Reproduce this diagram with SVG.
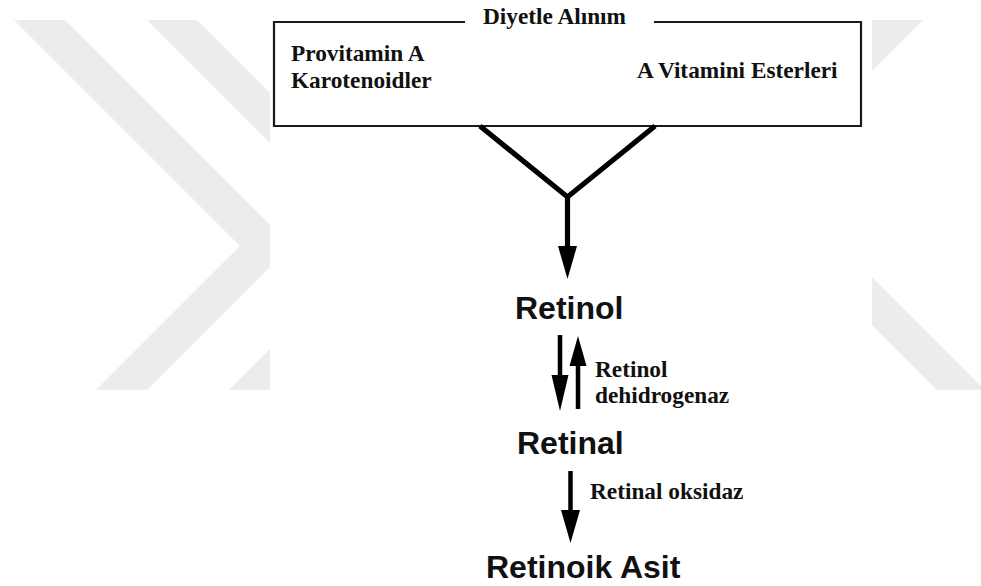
<svg xmlns="http://www.w3.org/2000/svg" width="981" height="586" viewBox="0 0 981 586">
  <style>
    .wm { fill: #ececec; }
    .frame { fill: none; stroke: #1a1a1a; stroke-width: 2.2; }
    .serif { font-family: "Liberation Serif", "Times New Roman", serif; font-weight: bold; font-size: 23.3px; fill: #111; }
    .sans { font-family: "Liberation Sans", Arial, sans-serif; font-weight: bold; font-size: 32px; fill: #111; }
    .shaft { fill: none; stroke: #000; stroke-width: 5.2; stroke-linejoin: miter; }
    .shaft-thin { fill: none; stroke: #000; stroke-width: 4.5; }
    .head { fill: #000; }
  </style>
  <defs>
    <clipPath id="clipLeft"><rect x="0" y="20" width="270" height="370"/></clipPath>
    <clipPath id="clipRight"><rect x="872" y="20" width="109" height="370"/></clipPath>
  </defs>

  <rect width="981" height="586" fill="#fff"/>

  <!-- background chevron pattern at both sides -->
  <g id="backdrop">
    <g clip-path="url(#clipLeft)">
      <polygon class="wm" points="-60,-54 -9,-54 291,246 -9,546 -60,546 240,246"/>
      <polygon class="wm" points="73,-54 123,-54 423,246 123,546 73,546 373,246"/>
    </g>
    <g clip-path="url(#clipRight)">
      <polygon class="wm" points="872,20 923,20 872,71"/>
      <polygon class="wm" points="872,277 981,386 981,390 937,390 872,325"/>
    </g>
  </g>

  <!-- dietary intake box -->
  <g id="intake">
    <path class="frame" d="M465,22 H274 V126 H861 V22 H654"/>
    <text class="serif" x="554.5" y="24" text-anchor="middle">Diyetle Alınım</text>
    <text class="serif" x="291" y="61">Provitamin A</text>
    <text class="serif" x="291" y="88">Karotenoidler</text>
    <text class="serif" x="637" y="78">A Vitamini Esterleri</text>
  </g>

  <g id="retinol">
    <text class="sans" x="515" y="319">Retinol</text>
  </g>

  <g id="retinal">
    <text class="sans" x="517" y="454">Retinal</text>
  </g>

  <g id="retinoic-acid">
    <text class="sans" x="486" y="578">Retinoik Asit</text>
  </g>

  <g id="connectors">
    <!-- merge of both sources into retinol -->
    <path class="shaft" d="M480,126 L567.5,197 L655,126"/>
    <path class="shaft" d="M567.5,196 V250"/>
    <polygon class="head" points="558,246 577,246 567.5,279"/>

    <!-- retinol <-> retinal -->
    <path class="shaft-thin" d="M560,335 V378"/>
    <polygon class="head" points="551.5,375 568.5,375 560,411"/>
    <path class="shaft-thin" d="M578,363 V409"/>
    <polygon class="head" points="569.5,366 586.5,366 578,336"/>
    <text class="serif" x="595" y="377">Retinol</text>
    <text class="serif" x="595" y="403">dehidrogenaz</text>

    <!-- retinal -> retinoic acid -->
    <path class="shaft-thin" d="M570.5,471 V514"/>
    <polygon class="head" points="561,510 580,510 570.5,543"/>
    <text class="serif" x="590" y="499">Retinal oksidaz</text>
  </g>
</svg>
